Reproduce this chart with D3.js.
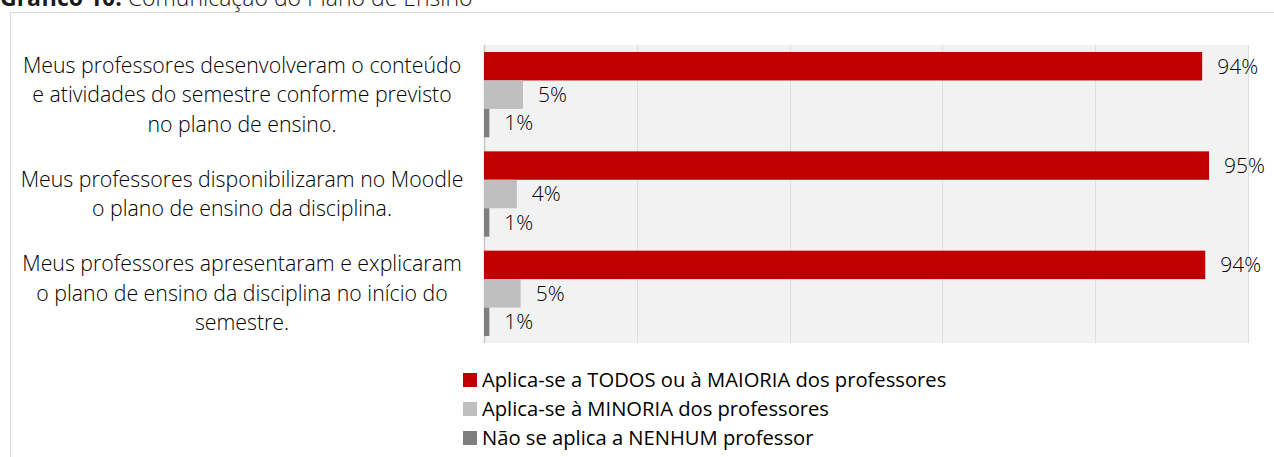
<!DOCTYPE html>
<html>
<head>
<meta charset="utf-8">
<script src="https://cdn.jsdelivr.net/npm/d3@7"></script>
<style>
  body { margin: 0; background: #fff; }
  svg { display: block; font-family: "Open Sans", sans-serif; }
</style>
</head>
<body>
<svg id="chart" width="1274" height="457"></svg>
<script>
// data
var categories = [
    ["Meus professores desenvolveram o conteúdo", "e atividades do semestre conforme previsto", "no plano de ensino."],
    ["Meus professores disponibilizaram no Moodle", "o plano de ensino da disciplina."],
    ["Meus professores apresentaram e explicaram", "o plano de ensino da disciplina no início do", "semestre."]
];
var seriesNames = [
    "Aplica-se a TODOS ou à MAIORIA dos professores",
    "Aplica-se à MINORIA dos professores",
    "Não se aplica a NENHUM professor"
];
var todos = [94.0, 94.9, 94.4];
var minoria = [5.1, 4.3, 4.8];
var nenhum = [0.7, 0.7, 0.7];
var valueLabels = [["94%", "5%", "1%"], ["95%", "4%", "1%"], ["94%", "5%", "1%"]];
var xTicks = [0, 20, 40, 60, 80, 100];
var colorsSeries = ["#c00000", "#bfbfbf", "#7f7f7f"];

var margin = { top: 45, left: 484, right: 26, bottom: 114 },
    W = 1274, H = 457,
    width = W - margin.left - margin.right,
    height = H - margin.top - margin.bottom;

var svg = d3.select("#chart");

// title (cut at the top like the source)
var title = svg.append("text")
    .attr("x", 0).attr("y", 6)
    .style("font-size", "23px")
    .style("fill", "#1a1a1a");
title.append("tspan").style("font-weight", "bold").text("Gráfico 10:");
title.append("tspan").style("font-weight", "300").text(" Comunicação do Plano de Ensino");

// frame
svg.append("path")
    .attr("d", "M10.5,460 V12.5 H1280")
    .attr("fill", "none")
    .attr("stroke", "#d9d9d9")
    .attr("stroke-width", 1);

var g = svg.append("g")
    .attr("transform", "translate(" + margin.left + "," + margin.top + ")");

var x = d3.scaleLinear().domain([0, 100]).range([0, width]);

var y = d3.scaleBand()
    .domain(d3.range(categories.length))
    .range([0, height])
    .padding(0);

var yi = d3.scaleBand()
    .domain(d3.range(seriesNames.length))
    .range([7, y.bandwidth() - 7])
    .padding(0);

// background
g.append("rect")
    .attr("x", 0).attr("y", 0)
    .attr("width", width).attr("height", height)
    .attr("fill", "#f2f2f2");

// grid
g.selectAll(".grid")
    .data(xTicks)
    .enter()
    .append("line")
    .attr("class", "grid")
    .attr("x1", function(d){ return Math.round(x(d)) + 0.5; })
    .attr("x2", function(d){ return Math.round(x(d)) + 0.5; })
    .attr("y1", 0).attr("y2", height)
    .attr("stroke", function(d){ return d == 0 ? "#c8c8c8" : "#dedede"; })
    .attr("stroke-width", function(d){ return d == 0 ? 1.5 : 1; });

// bars
var values = [todos, minoria, nenhum];
var rows = [];
for (var c = 0; c < categories.length; c++) {
    for (var s = 0; s < seriesNames.length; s++) {
        rows.push({ c: c, s: s, v: values[s][c], label: valueLabels[c][s] });
    }
}

g.selectAll(".bar")
    .data(rows)
    .enter()
    .append("rect")
    .attr("class", "bar")
    .attr("x", x(0))
    .attr("y", function(d){ return y(d.c) + yi(d.s); })
    .attr("width", function(d){ return x(d.v) - x(0); })
    .attr("height", yi.bandwidth())
    .attr("fill", function(d){ return colorsSeries[d.s]; });

g.selectAll(".vlabel")
    .data(rows)
    .enter()
    .append("text")
    .attr("class", "vlabel")
    .attr("x", function(d){ return x(d.v) + 15; })
    .attr("y", function(d){ return y(d.c) + yi(d.s) + yi.bandwidth() / 2; })
    .attr("dy", "0.35em")
    .style("font-size", "21px")
    .style("font-weight", "300")
    .style("fill", "#000")
    .text(function(d){ return d.label; });

// category labels
var catG = svg.append("g");
categories.forEach(function(lines, i) {
    var cy = margin.top + y(i) + y.bandwidth() / 2;
    var lh = 29.5;
    var t = catG.append("text")
        .attr("text-anchor", "middle")
        .style("font-size", "21.3px")
        .style("font-weight", "300")
        .style("fill", "#000");
    lines.forEach(function(l, j) {
        t.append("tspan")
            .attr("x", 242)
            .attr("y", cy + (j - (lines.length - 1) / 2) * lh)
            .attr("dy", "0.35em")
            .text(l);
    });
});

// legend
var legend = svg.append("g")
    .attr("transform", "translate(463,380)");

var item = legend.selectAll(".leg")
    .data(seriesNames)
    .enter()
    .append("g")
    .attr("class", "leg")
    .attr("transform", function(d, i){ return "translate(0," + (i * 29) + ")"; });

item.append("rect")
    .attr("x", 0).attr("y", -7)
    .attr("width", 14).attr("height", 14)
    .attr("fill", function(d, i){ return colorsSeries[i]; });

item.append("text")
    .attr("x", 19)
    .attr("y", 0)
    .attr("dy", "0.35em")
    .style("font-size", "20.2px")
    .style("fill", "#000")
    .text(function(d){ return d; });
</script>
</body>
</html>
